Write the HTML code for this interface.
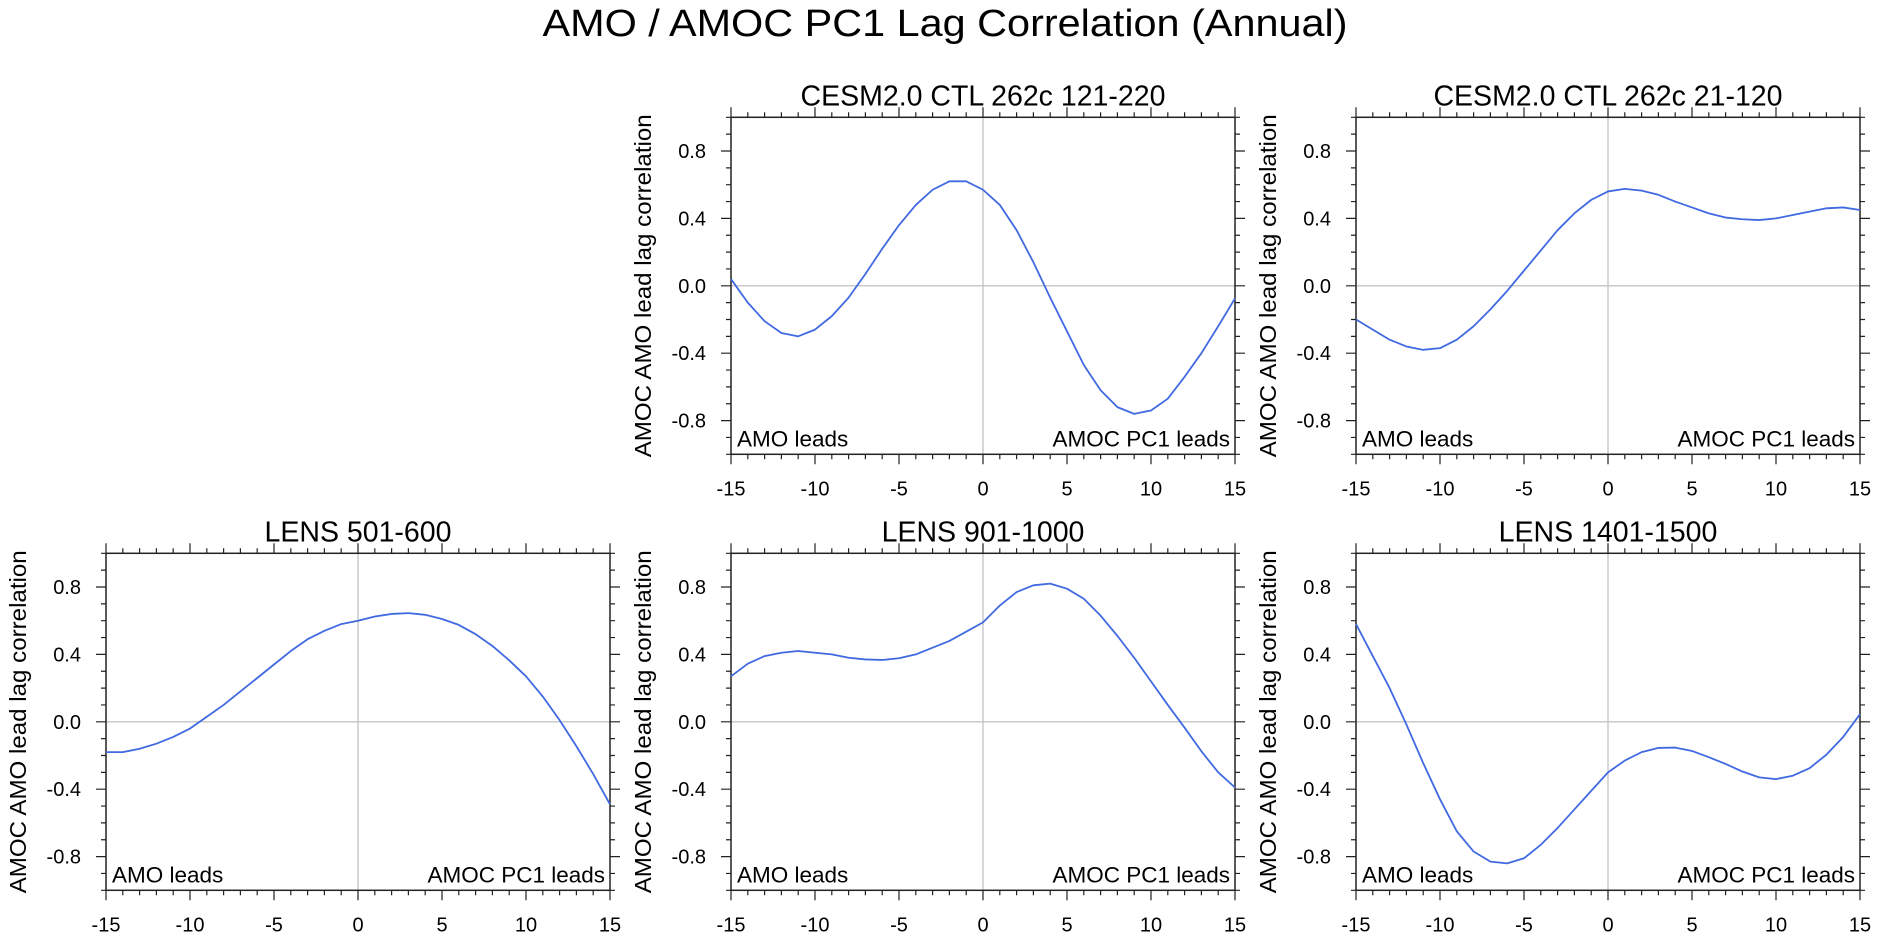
<!DOCTYPE html>
<html><head><meta charset="utf-8"><title>AMO / AMOC PC1 Lag Correlation</title>
<style>html,body{margin:0;padding:0;background:#fff;}svg{display:block;font-family:"Liberation Sans",Arial,sans-serif;}</style>
</head><body>
<svg id="fig" width="1880" height="939" viewBox="0 0 1880 939" xmlns="http://www.w3.org/2000/svg">
<rect width="1880" height="939" fill="#fff"/>
<text x="945" y="36" font-size="38" text-anchor="middle" textLength="805" lengthAdjust="spacingAndGlyphs">AMO / AMOC PC1 Lag Correlation (Annual)</text>
</svg>
<script>
const lags = [-15,-14,-13,-12,-11,-10,-9,-8,-7,-6,-5,-4,-3,-2,-1,0,1,2,3,4,5,6,7,8,9,10,11,12,13,14,15];
const cesm121 = [0.04,-0.10,-0.21,-0.28,-0.30,-0.26,-0.18,-0.07,0.07,0.22,0.36,0.48,0.57,0.62,0.62,0.57,0.48,0.33,0.14,-0.07,-0.27,-0.47,-0.62,-0.72,-0.76,-0.74,-0.67,-0.54,-0.40,-0.24,-0.075];
const cesm21 = [-0.20,-0.26,-0.32,-0.36,-0.38,-0.37,-0.32,-0.24,-0.14,-0.03,0.09,0.21,0.33,0.43,0.51,0.56,0.575,0.565,0.54,0.50,0.465,0.43,0.405,0.395,0.39,0.40,0.42,0.44,0.46,0.465,0.45];
const lens501 = [-0.18,-0.18,-0.16,-0.13,-0.09,-0.04,0.03,0.10,0.18,0.26,0.34,0.42,0.49,0.54,0.58,0.60,0.625,0.64,0.645,0.635,0.61,0.575,0.52,0.45,0.365,0.27,0.15,0.01,-0.145,-0.31,-0.49];
const lens901 = [0.27,0.345,0.39,0.41,0.42,0.41,0.40,0.38,0.37,0.367,0.377,0.40,0.44,0.48,0.535,0.59,0.69,0.77,0.81,0.82,0.79,0.73,0.63,0.51,0.38,0.24,0.10,-0.035,-0.175,-0.30,-0.39];
const lens1401 = [0.58,0.39,0.20,-0.016,-0.245,-0.46,-0.65,-0.77,-0.83,-0.84,-0.81,-0.73,-0.63,-0.52,-0.41,-0.30,-0.23,-0.18,-0.155,-0.153,-0.173,-0.21,-0.25,-0.295,-0.33,-0.34,-0.32,-0.275,-0.195,-0.09,0.045];
const xTickLabels = ["-15","-10","-5","0","5","10","15"];
const yTickLabels = ["-0.8","-0.4","0.0","0.4","0.8"];
const titles = ["CESM2.0 CTL 262c 121-220","CESM2.0 CTL 262c 21-120","LENS 501-600","LENS 901-1000","LENS 1401-1500"];

const NS = "http://www.w3.org/2000/svg";
const svg = document.getElementById("fig");
function mk(tag, attrs, parent){const e=document.createElementNS(NS,tag);for(const k in attrs)e.setAttribute(k,attrs[k]);(parent||svg).appendChild(e);return e;}

const W=504,H=337;
const panels=[
 {x:731,y:117.3,data:cesm121,t:titles[0],name:"cesm-121-220"},
 {x:1356,y:117.3,data:cesm21,t:titles[1],name:"cesm-21-120"},
 {x:106,y:553.3,data:lens501,t:titles[2],name:"lens-501-600"},
 {x:731,y:553.3,data:lens901,t:titles[3],name:"lens-901-1000"},
 {x:1356,y:553.3,data:lens1401,t:titles[4],name:"lens-1401-1500"}
];

panels.forEach(p=>{
  const g=mk("g",{});
  
  
  const sx=v=>p.x+(v+15)/30*W;
  const sy=v=>p.y+(1-v)/2*H;
  const gx=mk("line",{x1:sx(0),x2:sx(0),y1:p.y,y2:p.y+H,stroke:"#c4c4c4","stroke-width":1.3},g);
  
  
  const gy=mk("line",{x1:p.x,x2:p.x+W,y1:sy(0),y2:sy(0),stroke:"#c4c4c4","stroke-width":1.3},g);
  
  
  let tp="";
  for(let i=-15;i<=15;i++){const L=(i%5===0)?10:5;const X=sx(i);
    tp+=`M${X},${p.y}V${p.y-L}M${X},${p.y+H}V${p.y+H+L}`;}
  for(let k=-10;k<=10;k++){const v=k/10;const L=(k%4===0)?10:5;const Y=sy(v);
    tp+=`M${p.x},${Y}H${p.x-L}M${p.x+W},${Y}H${p.x+W+L}`;}
  const ticks=mk("path",{d:tp,stroke:"#222","stroke-width":1.2,fill:"none"},g);
  
  
  const fr=mk("rect",{x:p.x,y:p.y,width:W,height:H,fill:"none",stroke:"#222","stroke-width":1.5},g);
  
  
  xTickLabels.forEach(s=>{const t=mk("text",{x:sx(+s),y:p.y+H+41,"font-size":20,"text-anchor":"middle"},g);t.textContent=s;
    
    });
  yTickLabels.forEach(s=>{const t=mk("text",{x:p.x-25,y:sy(+s)+7,"font-size":20,"text-anchor":"end"},g);t.textContent=s;
    
    });
  const cy=p.y+H/2, cx=p.x-80;
  const yt=mk("text",{x:cx,y:cy,"font-size":23,"text-anchor":"middle",transform:`rotate(-90 ${cx} ${cy})`,textLength:343,lengthAdjust:"spacingAndGlyphs"},g);
  yt.textContent="AMOC AMO lead lag correlation";
  
  
  const tt=mk("text",{x:p.x+W/2,y:p.y-12,"font-size":28.5,"text-anchor":"middle"},g);
  tt.textContent=p.t;
  
  
  const a1=mk("text",{x:p.x+6,y:p.y+H-8,"font-size":22.5},g);a1.textContent="AMO leads";
  
  
  const a2=mk("text",{x:p.x+W-5,y:p.y+H-8,"font-size":22.5,"text-anchor":"end"},g);a2.textContent="AMOC PC1 leads";
  
  
  const pts=lags.map((l,i)=>sx(l).toFixed(2)+","+sy(p.data[i]).toFixed(2)).join(" ");
  const ln=mk("polyline",{points:pts,fill:"none",stroke:"#4169e1","stroke-width":1.8,"stroke-linejoin":"round"},g);
  
  
});
</script>
</body></html>
